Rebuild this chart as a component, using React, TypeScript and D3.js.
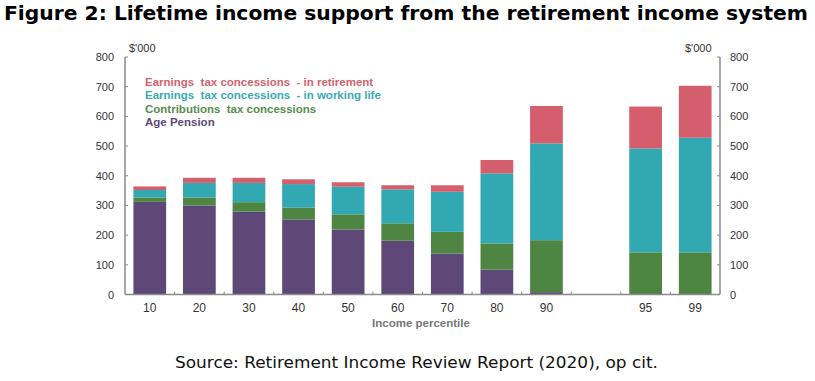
import React from "react";
import * as d3 from "d3";

const categories = ["10", "20", "30", "40", "50", "60", "70", "80", "90", "", "95", "99"];
const agePension = [312, 300, 279, 253, 219, 181, 138, 84, 8, 0, 0, 0];
const contributions = [15, 27, 32, 40, 51, 59, 73, 88, 175, 0, 142, 142];
const workingLife = [25, 49, 65, 79, 93, 114, 135, 236, 326, 0, 350, 386];
const retirement = [12, 17, 17, 16, 15, 14, 22, 45, 126, 0, 141, 175];
const yTicks = [0, 100, 200, 300, 400, 500, 600, 700, 800];
const seriesNames = [
  "Age Pension",
  "Contributions  tax concessions",
  "Earnings  tax concessions  - in working life",
  "Earnings  tax concessions  - in retirement",
];
const colors = ["#5d4877", "#4f8543", "#32a8b3", "#d45e6c"];
const legendColors = ["#5b4a7c", "#5a8c4c", "#3aaab7", "#d0636f"];

const W = 815;
const H = 381;
const left = 125;
const right = 720;
const top = 57;
const bottom = 294.5;

export default function App() {
  const keys = categories.map((c, i) => (c === "" ? "gap" + i : c));
  const x = d3.scaleBand<string>().domain(keys).range([left, right]).paddingInner(0.34).paddingOuter(0.17);
  const y = d3.scaleLinear().domain([0, 800]).range([bottom, top]);
  const rows = keys.map((k, i) => ({
    key: k,
    s0: agePension[i],
    s1: contributions[i],
    s2: workingLife[i],
    s3: retirement[i],
  }));
  const stack = d3.stack<any>().keys(["s0", "s1", "s2", "s3"]);
  const series = stack(rows);
  const boundaries = keys.map((_, i) => left + i * x.step()).slice(1);
  const axisColor = "#8a8a8a";

  return (
    <svg width={W} height={H} style={{ position: "absolute", left: 0, top: 0, background: "#fff" }}>
      <text x={4} y={20} fontFamily="DejaVu Sans" fontWeight="bold" fontSize={20} fill="#000" textLength={804} lengthAdjust="spacingAndGlyphs">
        Figure 2: Lifetime income support from the retirement income system
      </text>
      {series.map((s, si) => (
        <g key={si} fill={colors[si]}>
          {s.map((d: any, i: number) =>
            d[1] - d[0] > 0 ? (
              <rect key={i} x={x(keys[i])} width={x.bandwidth()} y={y(d[1])} height={y(d[0]) - y(d[1])} />
            ) : null
          )}
        </g>
      ))}
      {/* axes */}
      <line x1={left} x2={left} y1={top} y2={bottom} stroke={axisColor} strokeWidth={1.5} />
      <line x1={right} x2={right} y1={top} y2={bottom} stroke={axisColor} strokeWidth={1.5} />
      <line x1={left} x2={right} y1={bottom} y2={bottom} stroke={axisColor} strokeWidth={1.5} />
      {yTicks.map((t) => (
        <g key={t}>
          <line x1={left} x2={left + 3} y1={y(t)} y2={y(t)} stroke={axisColor} strokeWidth={1} />
          <line x1={right - 3} x2={right} y1={y(t)} y2={y(t)} stroke={axisColor} strokeWidth={1} />
          <text x={114} y={y(t) + 4} textAnchor="end" fontFamily="Liberation Sans" fontSize={11} fill="#333">
            {t}
          </text>
          <text x={730} y={y(t) + 4} textAnchor="start" fontFamily="Liberation Sans" fontSize={11} fill="#333">
            {t}
          </text>
        </g>
      ))}
      {boundaries.map((b, i) => (
        <line key={i} x1={b} x2={b} y1={bottom} y2={bottom - 3} stroke={axisColor} strokeWidth={1} />
      ))}
      {keys.map((k, i) =>
        categories[i] !== "" ? (
          <text key={k} x={(x(k) as number) + x.bandwidth() / 2} y={312} textAnchor="middle" fontFamily="Liberation Sans" fontSize={12} fill="#333">
            {categories[i]}
          </text>
        ) : null
      )}
      <text x={421} y={327} textAnchor="middle" fontFamily="Liberation Sans" fontWeight="bold" fontSize={11.5} fill="#777">
        Income percentile
      </text>
      <text x={129} y={52} fontFamily="Liberation Sans" fontSize={11} fill="#333">$'000</text>
      <text x={685} y={52} fontFamily="Liberation Sans" fontSize={11} fill="#333">$'000</text>
      {[3, 2, 1, 0].map((si, j) => (
        <text key={si} x={145} y={86 + j * 13.3} fontFamily="Liberation Sans" fontWeight="bold" fontSize={11.5} fill={legendColors[si]} style={{ whiteSpace: "pre" }}>
          {seriesNames[si]}
        </text>
      ))}
      <text x={175} y={368} fontFamily="DejaVu Sans" fontSize={15.5} fill="#111" textLength={483} lengthAdjust="spacingAndGlyphs">
        Source: Retirement Income Review Report (2020), op cit.
      </text>
    </svg>
  );
}
